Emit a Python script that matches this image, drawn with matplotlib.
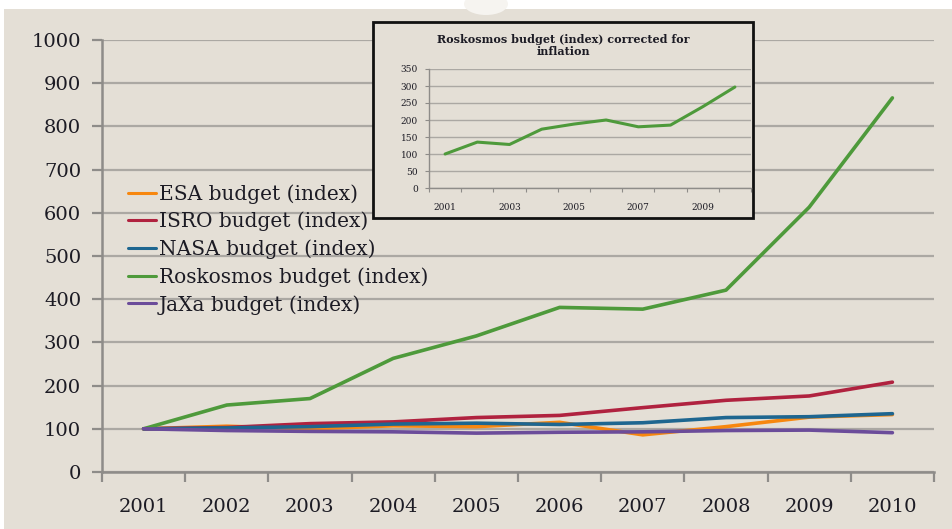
import matplotlib
matplotlib.use("Agg")
import matplotlib.pyplot as plt
from matplotlib.patches import Rectangle, Ellipse
from matplotlib.ticker import FixedLocator, NullFormatter

years = ["2001", "2002", "2003", "2004", "2005", "2006", "2007", "2008", "2009", "2010"]
esa = [100, 106, 100, 107, 105, 115, 86, 105, 127, 133]
isro = [100, 103, 112, 116, 126, 131, 149, 166, 176, 208]
nasa = [100, 102, 105, 111, 113, 110, 114, 126, 128, 135]
roskosmos = [100, 155, 170, 263, 315, 381, 377, 421, 613, 866]
jaxa = [100, 96, 94, 93, 90, 92, 93, 96, 97, 91]
series_labels = ["ESA budget (index)", "ISRO budget (index)", "NASA budget (index)",
                 "Roskosmos budget (index)", "JaXa budget (index)"]

inset_title = "Roskosmos budget (index) corrected for\ninflation"
rosk_real = [100, 135, 128, 173, 188, 200, 180, 185, 239, 297]
inset_xlabels = ["2001", "", "2003", "", "2005", "", "2007", "", "2009", ""]

BG = "#E4DFD6"
GRID = "#ABA8A3"
SPINE = "#8E8C89"
TXT = "#1C1B24"
colors = ["#F7870F", "#B0223F", "#1E6690", "#4E9A3B", "#6B4C9A"]

W, H = 952, 529
fig = plt.figure(figsize=(W / 100, H / 100), dpi=100)
fig.patch.set_facecolor("white")
fig.add_artist(Rectangle((4 / W, 0), 1 - 4 / W, 1 - 9 / H, transform=fig.transFigure,
                         facecolor=BG, edgecolor="none", zorder=-10))
fig.add_artist(Ellipse((486 / W, 1 - 4 / H), 44 / W, 22 / H, transform=fig.transFigure,
                       facecolor="#F6F4F0", edgecolor="none", zorder=-9))

serif = ["DejaVu Serif"]

def fx(px):
    return px / W

def fy(py):
    return 1 - py / H

ax = fig.add_axes([fx(102), fy(472), fx(934) - fx(102), fy(40) - fy(472)])
ax.set_facecolor("none")
x = list(range(len(years)))
for vals, c, lab in zip([esa, isro, nasa, roskosmos, jaxa], colors, series_labels):
    ax.plot(x, vals, color=c, lw=2.6, label=lab, solid_capstyle="round", zorder=3)

ax.set_xlim(-0.5, len(years) - 0.5)
ax.set_ylim(0, 1000)
ax.set_yticks(range(0, 1001, 100))
ax.yaxis.grid(True, color=GRID, lw=1.6)
ax.set_axisbelow(True)
ax.set_xticks(x)
ax.set_xticklabels(years)
ax.xaxis.set_minor_locator(FixedLocator([i - 0.5 for i in range(len(years) + 1)]))
ax.xaxis.set_minor_formatter(NullFormatter())
ax.tick_params(axis="x", which="major", length=0, pad=19)
ax.tick_params(axis="x", which="minor", length=7, width=1.6, color=SPINE)
ax.tick_params(axis="y", which="major", length=7, width=1.6, color=SPINE, pad=8)
for s in ["top", "right"]:
    ax.spines[s].set_visible(False)
for s in ["left", "bottom"]:
    ax.spines[s].set_color(SPINE)
    ax.spines[s].set_linewidth(1.8)
for lbl in ax.get_xticklabels() + ax.get_yticklabels():
    lbl.set_fontfamily(serif)
    lbl.set_fontsize(14)
    lbl.set_color(TXT)

leg = ax.legend(loc="upper left", bbox_to_anchor=(fx(128), fy(184)),
                bbox_transform=fig.transFigure, frameon=False,
                prop={"family": serif, "size": 14.5}, handlelength=1.4,
                handletextpad=0.12, labelspacing=0.40, borderpad=0, borderaxespad=0)
for t in leg.get_texts():
    t.set_color(TXT)
for h in leg.get_lines():
    h.set_linewidth(2.2)

box = Rectangle((fx(373), fy(218)), fx(753) - fx(373), fy(22) - fy(218),
                transform=fig.transFigure, facecolor=BG, edgecolor="#111111",
                lw=2.0, zorder=5)
fig.add_artist(box)
fig.text(fx(563), fy(45.5), inset_title, ha="center", va="center", fontsize=8.0,
         fontweight="bold", family=serif, color=TXT, linespacing=1.05, zorder=7)

iax = fig.add_axes([fx(429), fy(188), fx(751) - fx(429), fy(69) - fy(188)], zorder=6)
iax.set_facecolor("none")
iax.plot(x, rosk_real, color=colors[3], lw=2.2, solid_capstyle="round", zorder=3)
iax.set_xlim(-0.5, len(years) - 0.5)
iax.set_ylim(0, 350)
iax.set_yticks(range(0, 351, 50))
iax.yaxis.grid(True, color=GRID, lw=1.0)
iax.set_axisbelow(True)
iax.set_xticks(x)
iax.set_xticklabels(inset_xlabels)
iax.xaxis.set_minor_locator(FixedLocator([i - 0.5 for i in range(len(years) + 1)]))
iax.xaxis.set_minor_formatter(NullFormatter())
iax.tick_params(axis="x", which="major", length=0, pad=11)
iax.tick_params(axis="x", which="minor", length=3, width=0.8, color=SPINE)
iax.tick_params(axis="y", which="major", length=3, width=0.8, color=SPINE, pad=5)
for s in ["top", "right"]:
    iax.spines[s].set_visible(False)
for s in ["left", "bottom"]:
    iax.spines[s].set_color(SPINE)
    iax.spines[s].set_linewidth(1.0)
for lbl in iax.get_xticklabels() + iax.get_yticklabels():
    lbl.set_fontfamily(serif)
    lbl.set_fontsize(6.5)
    lbl.set_color(TXT)

fig.savefig("out.png", dpi=100, facecolor=fig.get_facecolor())
